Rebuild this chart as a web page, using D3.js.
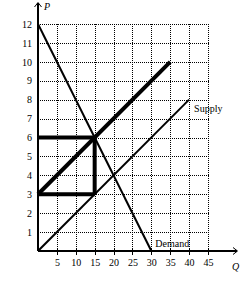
<!DOCTYPE html>
<html>
<head>
<meta charset="utf-8">
<script src="https://cdnjs.cloudflare.com/ajax/libs/d3/7.8.5/d3.min.js"></script>
<style>
body { margin: 0; background: #fff; }
text { font-family: "Liberation Serif", "DejaVu Serif", serif; font-size: 10px; fill: #000; }
</style>
</head>
<body>
<div id="chart"></div>
<script>
// tick values
var xTicks = [5, 10, 15, 20, 25, 30, 35, 40, 45];
var yTicks = [1, 2, 3, 4, 5, 6, 7, 8, 9, 10, 11, 12];

// curves (Q, P)
var demand = [[0, 12], [30, 0]];
var supply = [[0, 0], [40, 8]];
var thickLine = [[0, 3], [35, 10]];
var priceTop = [[0, 6], [15, 6]];
var priceBottom = [[0, 3], [15, 3]];
var wedge = [[15, 3], [15, 6]];

var margin = { top: 24, right: 32, bottom: 37, left: 38 };

var xScale = d3.scaleLinear().domain([0, 45]).range([0, 170]);
var yScale = d3.scaleLinear().domain([0, 12]).range([227, 0]);

// snap 1px lines to pixel centres
function px(v) { return Math.round(v) + 0.5; }

var svg = d3.select("#chart").append("svg")
    .attr("width", 240)
    .attr("height", 288);

var chart = svg.append("g")
    .attr("transform", "translate(" + margin.left + "," + margin.top + ")");

// dotted grid
chart.append("g").selectAll("line")
    .data(xTicks)
    .enter().append("line")
    .attr("x1", function(d) { return px(xScale(d)); })
    .attr("x2", function(d) { return px(xScale(d)); })
    .attr("y1", Math.round(yScale(0)))
    .attr("y2", Math.round(yScale(12)))
    .attr("stroke", "#000")
    .attr("stroke-width", 1)
    .attr("stroke-dasharray", "1,1");

chart.append("g").selectAll("line")
    .data(yTicks)
    .enter().append("line")
    .attr("x1", Math.round(xScale(0)))
    .attr("x2", Math.round(xScale(45)) + 1)
    .attr("y1", function(d) { return px(yScale(d)); })
    .attr("y2", function(d) { return px(yScale(d)); })
    .attr("stroke", "#000")
    .attr("stroke-width", 1)
    .attr("stroke-dasharray", "1,1");

// axes
var xAxis = chart.append("g")
    .attr("transform", "translate(0," + yScale(0) + ")")
    .call(d3.axisBottom(xScale).tickValues(xTicks).tickSize(4).tickPadding(4));
var yAxis = chart.append("g")
    .call(d3.axisLeft(yScale).tickValues(yTicks).tickSize(0).tickPadding(6));
[xAxis, yAxis].forEach(function(a) {
    a.select(".domain").remove();
    a.selectAll("text").style("font-family", "Liberation Serif, serif").style("font-size", "10px");
    a.selectAll("line").attr("stroke", "#000");
});
xAxis.selectAll(".tick line").attr("y1", -3).attr("y2", 4).attr("shape-rendering", "crispEdges");

// axis lines with arrows
chart.append("line")
    .attr("x1", xScale(0)).attr("x2", 199)
    .attr("y1", yScale(0)).attr("y2", yScale(0))
    .attr("stroke", "#000").attr("stroke-width", 2);
chart.append("line")
    .attr("x1", xScale(0)).attr("x2", xScale(0))
    .attr("y1", yScale(0)).attr("y2", -21)
    .attr("stroke", "#000").attr("stroke-width", 2);
chart.append("path")
    .attr("d", "M195,223.5 L199.5,227 L195,230.5")
    .attr("fill", "none").attr("stroke", "#000");
chart.append("path")
    .attr("d", "M-3.5,-17 L0,-21.5 L3.5,-17")
    .attr("fill", "none").attr("stroke", "#000");

chart.append("text")
    .attr("x", 6).attr("y", -14)
    .style("font-style", "italic")
    .text("P");
chart.append("text")
    .attr("x", 194).attr("y", 246)
    .style("font-style", "italic")
    .text("Q");

// lines
var lineGen = d3.line()
    .x(function(d) { return xScale(d[0]); })
    .y(function(d) { return yScale(d[1]); });

function drawLine(data, w) {
    chart.append("path")
        .attr("d", lineGen(data))
        .attr("stroke", "#000")
        .attr("stroke-width", w)
        .attr("fill", "none");
}

drawLine(demand, 2);
drawLine(supply, 2);
drawLine(thickLine, 4);
drawLine(priceTop, 4);
drawLine(priceBottom, 4);
drawLine(wedge, 4);

// labels
chart.append("text")
    .attr("x", xScale(40) + 5).attr("y", yScale(8) + 12)
    .text("Supply");
chart.append("text")
    .attr("x", xScale(30) + 4).attr("y", yScale(0) - 4)
    .text("Demand");
</script>
</body>
</html>
